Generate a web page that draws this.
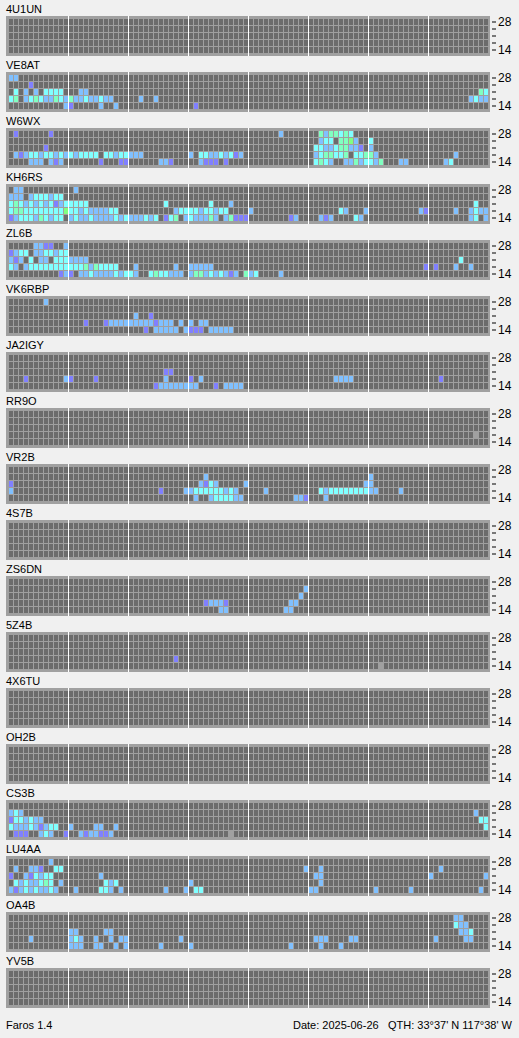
<!DOCTYPE html>
<html>
<head>
<meta charset="utf-8">
<script src="https://cdn.jsdelivr.net/npm/d3@7"></script>
<style>
  body { margin: 0; background: #f0f0f0; }
  svg { display: block; font-family: "Liberation Sans", Arial, sans-serif; font-size: 11px; }
</style>
</head>
<body>
<div id="chart"></div>
<script>
// beacon stations, top to bottom
const stations = ['4U1UN', 'VE8AT', 'W6WX', 'KH6RS', 'ZL6B', 'VK6RBP', 'JA2IGY', 'RR9O', 'VR2B',
  '4S7B', 'ZS6DN', '5Z4B', '4X6TU', 'OH2B', 'CS3B', 'LU4AA', 'OA4B', 'YV5B']
// bands (MHz), top row first
const bands = ['28', '24', '21', '18', '14']
const labelledBands = ['28', '14']
// 96 slots of 15 minutes
const slots = d3.range(96)

// signal level colours
const levelColor = { p: '#8080ff', b: '#80c0ff', c: '#80ffff', m: '#80ffc0', g: '#80ff80', x: '#a0a0a0' }

// heard slots per band row: "startSlot:levels" ('.' = not heard)
const heard = {
  '4U1UN': ['', '', '', '', ''],
  VE8AT: ['0:bb', '4:p', '1:c 3:b 5:b 7:cccc 14:bb 94:mc',
    '0:cm 3:bcmcbbmcbmbbcbbcbb 26:b 29:b 92:bcbb', '11:bp 18:b 21:b 37:p'],
  W6WX: ['1:p 8:p 54:b 62:mbmmcmc', '62:bcc.mmgb 72:c', '7:p 61:ccbbcmmbbp 72:b',
    '1:bpbccbccbcbcbcccc.ccbccbbb 36:b 38:ccbbcbcpb 61:bcmmccm.ccmmb 89:b',
    '4:bbb 8:bpb 18:p 22:pp 30:bbp 38:bppp 43:p 61:cmcb 67:bbmbccbm 78:bb 87:bc'],
  KH6RS: ['1:bb 13:b', '0:bbb 4:bcccbcc', '0:cmcbcbcbcpbccccc 31:c 40:c 44:b 93:c',
    '0:cmmccccccccgccbcbbbbcc 33:bccccbccbcc 48:b 66:cb 71:b 82:bp 89:b 92:bcbb',
    '0:pbcccbmcbcc 12:bcbbcbbbbcbcbbbcbc 31:pcm 35:bcbbbmb 43:bmppp 56:pb 62:bpb 69:cb 92:bc 95:b'],
  ZL6B: ['5:bbpp 11:b', '0:pbcc 5:bbccbcc', '0:bpb 4:c 6:bb 9:cccbbbb 90:c',
    '0:cb 3:bcccccccccccmbmcccc 25:b 33:b 36:bbbbb 83:p 85:p 89:b 92:b',
    '10:pbp 14:bbcbbbbcbccb 28:cmccbbb 36:bmmbcbcbpb 47:mbc 54:b'],
  VK6RBP: ['7:b', '', '25:b 28:p', '15:p 19:pbbbbbbbbbpbbb 34:b 36:b 38:bb',
    '27:p 29:bbbbb 35:bppp 40:bbbbb'],
  JA2IGY: ['', '', '31:pp', '3:p 11:bp 17:p 31:b 36:p 38:b 65:bbbb 86:p', '29:pbbbbbbbb 41:p 43:bbbb'],
  RR9O: ['', '', '', '93:x', ''],
  VR2B: ['', '39:b 72:b', '0:p 38:bpcb 47:b 71:bb',
    '0:b 30:p 35:bbccccccbcb 51:b 62:cbccccccccbb 78:b', '37:b 40:bccccbb 57:bbp 63:b'],
  '4S7B': ['', '', '', '', ''],
  ZS6DN: ['', '59:b', '58:b', '39:pbbbp 56:bb', '42:bb 55:bb'],
  '5Z4B': ['', '', '', '33:p', '74:x'],
  '4X6TU': ['', '', '', '', ''],
  OH2B: ['', '', '', '', ''],
  CS3B: ['', '0:bcb 93:b', '0:pccbcbb 94:cc', '0:cbbbcbpbcc 12:b 17:bb 21:b 95:c',
    '1:ppp 6:bcb 11:p 14:bpbbpp 20:b 44:x'],
  LU4AA: ['8:b', '1:b 4:bbp 9:cc 59:b 62:b 86:b', '0:p 3:bpcbcc 18:b 61:bb 84:b 95:b',
    '1:cbcbbcmc 10:b 19:cbc 36:b 62:b', '0:bpbcbcbbcb 13:b 18:ccb 22:b 31:b 35:b 37:cc 60:bb 73:b 80:b 94:b'],
  OA4B: ['89:bb', '89:cbb', '12:bb 19:bb 90:bbc',
    '4:b 12:bcb 17:b 20:b 22:bb 34:b 61:bb 63:b 68:bb 85:b 91:bb',
    '12:bbb 17:bb 21:b 23:b 30:b 36:b 56:b 62:b 66:b'],
  YV5B: ['', '', '', '', '']
}

function spots(rows) {
  const out = []
  rows.forEach((row, r) => {
    row.split(' ').filter(s => s).forEach(run => {
      const [start, levels] = run.split(':')
      levels.split('').forEach((lv, i) => {
        if (lv !== '.') out.push({ slot: +start + i, band: bands[r], level: lv })
      })
    })
  })
  return out
}

const width = 519
const height = 1038
const panelStep = 56
const firstTop = 16

const svg = d3
  .select('#chart')
  .append('svg')
  .attr('width', width)
  .attr('height', height)

const xScale = d3
  .scaleBand()
  .domain(slots)
  .range([9, 488])
  .paddingInner(0.2)

const yScale = d3
  .scaleBand()
  .domain(bands)
  .range([3, 37])
  .paddingInner(1 / 7)

stations.forEach((name, k) => {
  const g = svg
    .append('g')
    .attr('transform', 'translate(0,' + (firstTop + k * panelStep) + ')')

  g.append('text')
    .attr('x', 6)
    .attr('y', -3)
    .attr('fill', '#000')
    .text(name)

  g.append('rect')
    .attr('x', 6)
    .attr('y', 0)
    .attr('width', 484)
    .attr('height', 40)
    .attr('fill', '#a0a0a0')

  // empty grid
  const grid = []
  bands.forEach(b => slots.forEach(s => grid.push({ slot: s, band: b })))
  g.selectAll('.cell')
    .data(grid)
    .enter()
    .append('rect')
    .attr('class', 'cell')
    .attr('x', d => xScale(d.slot))
    .attr('y', d => yScale(d.band))
    .attr('width', xScale.bandwidth())
    .attr('height', yScale.bandwidth())
    .attr('fill', '#6c6c6c')

  // 3 hour dividers
  g.selectAll('.divider')
    .data(d3.range(12, 96, 12))
    .enter()
    .append('rect')
    .attr('class', 'divider')
    .attr('x', d => xScale(d) - 1)
    .attr('y', 0)
    .attr('width', 1)
    .attr('height', 40)
    .attr('fill', '#ffffff')

  g.selectAll('.spot')
    .data(spots(heard[name]))
    .enter()
    .append('rect')
    .attr('class', 'spot')
    .attr('x', d => xScale(d.slot))
    .attr('y', d => yScale(d.band))
    .attr('width', xScale.bandwidth())
    .attr('height', yScale.bandwidth())
    .attr('fill', d => levelColor[d.level])

  const axis = d3
    .axisRight(yScale)
    .tickSize(4)
    .tickPadding(2)
    .tickFormat(d => (labelledBands.includes(d) ? d : ''))
  const ax = g
    .append('g')
    .attr('transform', 'translate(492,0)')
    .call(axis)
  ax.select('.domain').remove()
  ax.selectAll('line').attr('stroke', '#000')
  ax.selectAll('text')
    .attr('fill', '#000')
    .style('font-size', '12px')
    .style('font-family', '"Liberation Sans", Arial, sans-serif')
})

// footer
svg.append('text').attr('x', 6).attr('y', 1029).text('Faros 1.4')
svg.append('text').attr('x', 293).attr('y', 1029).text('Date: 2025-06-26')
svg.append('text').attr('x', 388).attr('y', 1029).text('QTH: 33°37\' N')
svg.append('text').attr('x', 512).attr('y', 1029).attr('text-anchor', 'end').text('117°38\' W')
</script>
</body>
</html>
